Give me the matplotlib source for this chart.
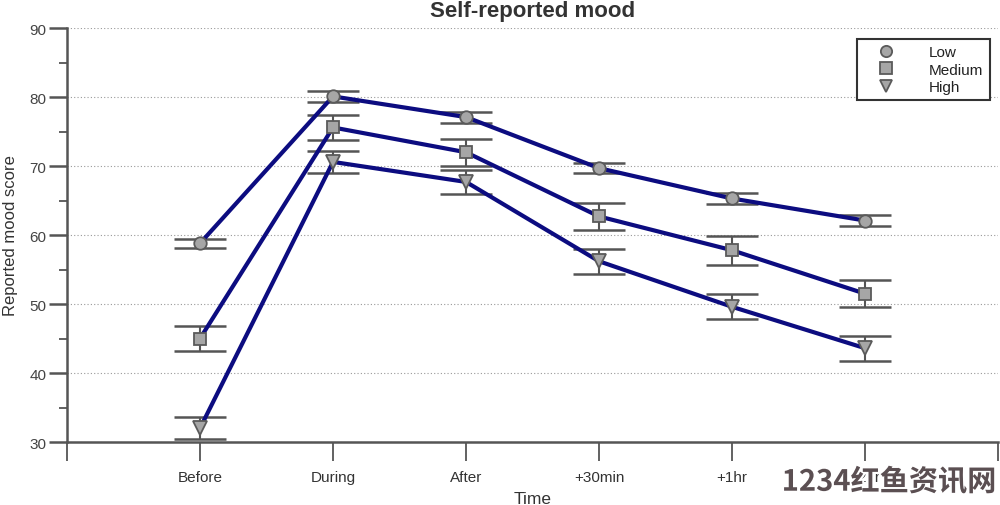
import matplotlib
matplotlib.use("Agg")
import matplotlib.pyplot as plt
import matplotlib.patheffects as pe
import numpy as np

categories = ["Before", "During", "After", "+30min", "+1hr", "+2hr"]
series_names = ["Low", "Medium", "High"]
low_vals = [58.8, 80.1, 77.1, 69.7, 65.3, 62.1]
low_err = [0.65, 0.75, 0.8, 0.7, 0.8, 0.8]
med_vals = [45.0, 75.6, 72.0, 62.7, 57.8, 51.5]
med_err = [1.8, 1.8, 1.95, 2.0, 2.1, 1.95]
high_vals = [32.0, 70.6, 67.7, 56.2, 49.6, 43.6]
high_err = [1.6, 1.6, 1.75, 1.8, 1.8, 1.8]
markers = ["o", "s", "v"]

plt.rcParams['font.family'] = ['Liberation Sans', 'DejaVu Sans']

fig = plt.figure(figsize=(10, 5.06), dpi=100)
ax = fig.add_axes([0.067, 0.1245, 0.931, 0.818])

x = np.arange(1, len(categories) + 1)
grey = "#555555"
for vals, errs, m, name in zip([low_vals, med_vals, high_vals],
                               [low_err, med_err, high_err], markers, series_names):
    ax.errorbar(x, vals, yerr=errs, fmt="none", ecolor=grey, elinewidth=1.5,
                capsize=19, capthick=1.8, zorder=2)
    ax.plot(x, vals, color="#0c0c80", lw=3, zorder=3)
    ax.plot(x, vals, linestyle="none", marker=m, ms=9 if m != "v" else 10,
            mfc="#a6a6a6", mec="#5a5a5a", mew=1.3, zorder=4, label=name)

ax.set_xlim(0, 7)
ax.set_ylim(30, 90)
ax.set_xticks(np.arange(0, 8))
ax.set_xticklabels([""] + categories + [""])
ax.set_yticks(np.arange(30, 91, 10))
ax.set_yticks(np.arange(35, 90, 10), minor=True)
ax.tick_params(axis="x", length=14, width=1.3, color=grey, labelsize=11,
               labelcolor="#333333", pad=6)
ax.tick_params(axis="y", which="major", length=13, width=1.8, color=grey,
               labelsize=11, labelcolor="#444444", pad=2)
ax.tick_params(axis="y", which="minor", length=6, width=1.3, color=grey)
ax.grid(axis="y", which="major", linestyle=(0, (1, 2)), color="#999999", lw=0.8)
for s in ["top", "right"]:
    ax.spines[s].set_visible(False)
ax.spines["left"].set_color(grey)
ax.spines["left"].set_linewidth(1.8)
ax.spines["bottom"].set_color(grey)
ax.spines["bottom"].set_linewidth(1.8)

ax.set_title("Self-reported mood", fontsize=16, fontweight="bold", color="#333333", pad=9)
ax.set_ylabel("Reported mood score", fontsize=12, color="#333333", labelpad=8)
ax.set_xlabel("Time", fontsize=12.5, color="#333333", labelpad=5)

leg = ax.legend(loc="upper right", bbox_to_anchor=(0.991, 0.973), borderaxespad=0,
                fancybox=False, framealpha=1, edgecolor="#333333", fontsize=11,
                handletextpad=1.3, borderpad=0.4, labelspacing=0.22,
                handlelength=3.0, markerscale=0.9)
leg.get_frame().set_linewidth(1.5)
for t in leg.get_texts():
    t.set_color("#222222")

fig.text(0.889, 0.046, "1234红鱼资讯网", fontsize=21, fontweight="bold",
         color="#5b4f52", ha="center", va="center",
         family=["Noto Sans CJK SC", "DejaVu Sans"],
         path_effects=[pe.withStroke(linewidth=3, foreground="white")])

fig.savefig("out.png", dpi=100, facecolor="white")
